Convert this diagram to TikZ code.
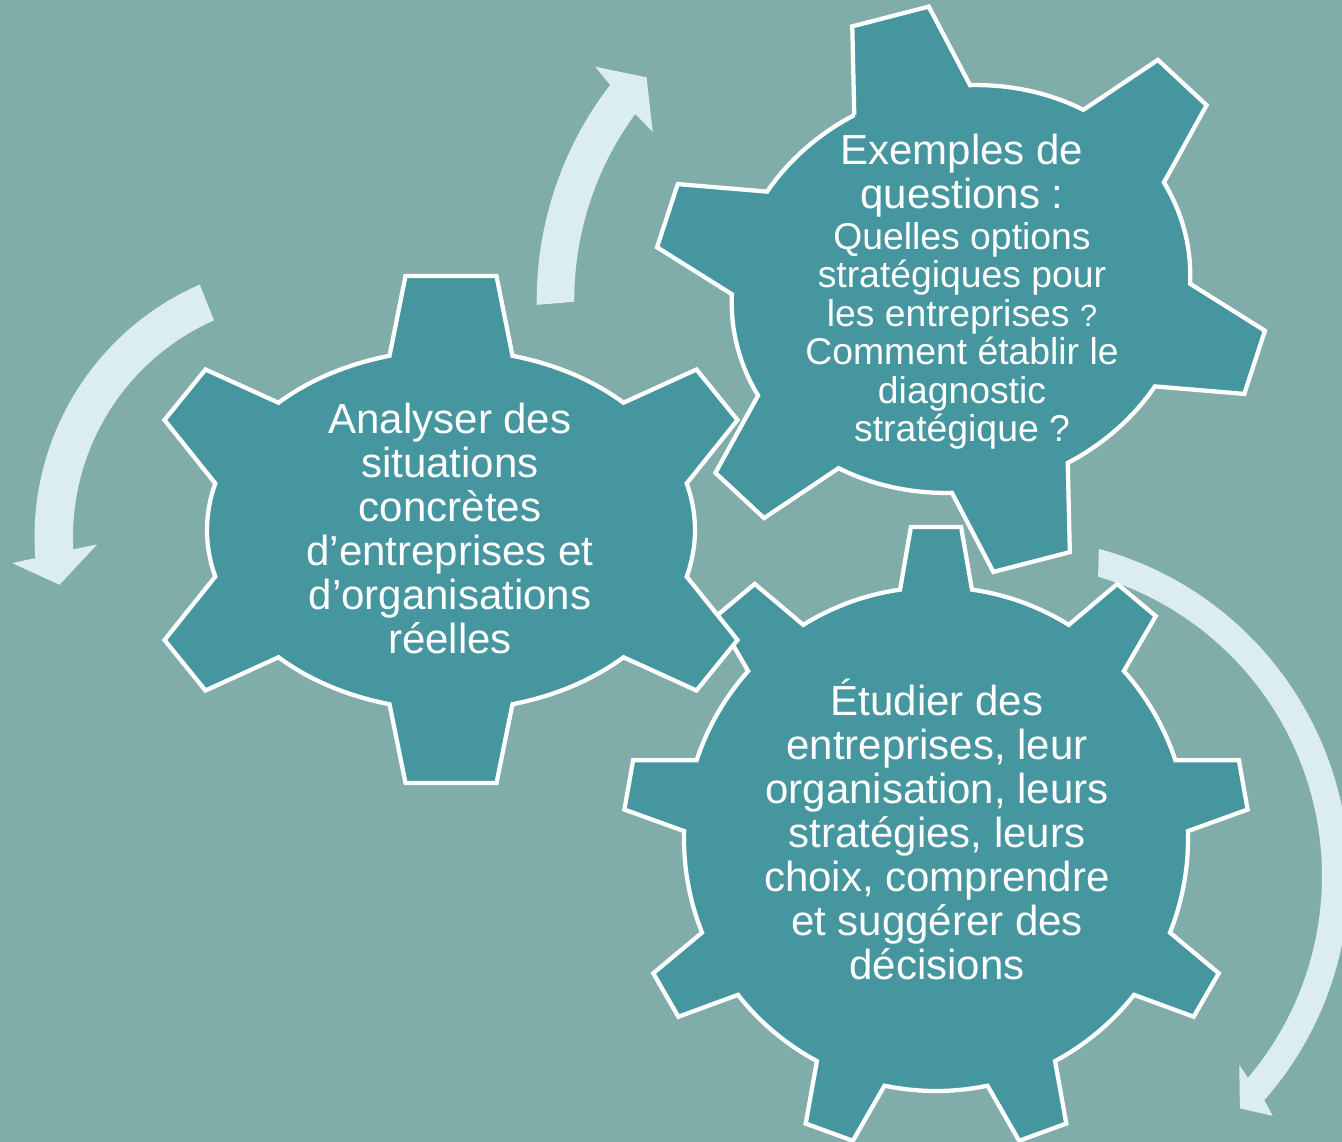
\documentclass[tikz,border=0pt]{standalone}
\usepackage{fontspec}
\setmainfont{Liberation Sans}
\usetikzlibrary{positioning}
\definecolor{mybg}{RGB}{128,172,170}
\definecolor{mygear}{RGB}{70,150,160}
\definecolor{myarrow}{RGB}{219,237,239}
\tikzset{gearbox/.style={fill=mygear, draw=white, line width=3.2pt},
  arrowband/.style={fill=myarrow},
  geartext/.style={text=white, align=center, font=\fontsize{31.5}{33}\selectfont},
  questext/.style={geartext, inner sep=0pt, font=\fontsize{28}{28.9}\selectfont}}

\begin{document}
\begin{tikzpicture}[x=0.75pt,y=-0.75pt]
\fill[mybg] (0,0) rectangle (1342,1142);
\useasboundingbox (0,0) rectangle (1342,1142);
% curved arrows
\begin{scope}[shift={(310,537)}]
\fill[arrowband] (246.4:275.5) arc[start angle=246.4, end angle=175.6, radius=275.5]
  -- (175:299) -- (169.2:255) -- (178:213) -- (177:237)
  arc[start angle=177, end angle=246.1, radius=237] -- cycle;
\end{scope}
\begin{scope}[shift={(890.2,300.6)}]
\fill[arrowband] (179.3:353.5) arc[start angle=179.3, end angle=217.6, radius=353.5]
  -- (218.4:376.6) -- (222.5:330.4) -- (215.4:291.4) -- (216.2:316)
  arc[start angle=216.2, end angle=179.8, radius=316] -- cycle;
\end{scope}
\begin{scope}[shift={(1010,876)}]
\fill[arrowband] (-74.8:339) arc[start angle=-74.8, end angle=41.4, radius=339]
  -- (42.4:355.8) -- (45.3:326.9) -- (39.5:297.1) -- (40.3:312)
  arc[start angle=40.3, end angle=-73.6, radius=312] -- cycle;
\end{scope}
% gear with nine teeth
\begin{scope}[shift={(936,839)}]
\draw[gearbox] (-98.2:252) \foreach \c in {-90,-50,...,230}{
  -- ({\c-4.6}:313) -- ({\c+4.6}:313) -- ({\c+8.2}:252)
  arc[start angle=\c+8.2, end angle=\c+31.8, radius=252]} -- cycle;
\end{scope}
% left gear
\begin{scope}[shift={(451,530)}]
\draw[gearbox] (-104.6:244 and 180) -- (-45.5,-254) -- (45.5,-254) -- (-75.4:244 and 180)
  arc[start angle=-75.4, end angle=-45, x radius=244, y radius=180]
  -- (245.5,-160.5) -- (286.5,-110) -- (-15:244 and 180)
  arc[start angle=-15, end angle=15, x radius=244, y radius=180]
  -- (286.5,110) -- (245.5,160.5) -- (45:244 and 180)
  arc[start angle=45, end angle=75.4, x radius=244, y radius=180]
  -- (45.5,253) -- (-45.5,253) -- (104.6:244 and 180)
  arc[start angle=104.6, end angle=135, x radius=244, y radius=180]
  -- (-245.5,160.5) -- (-286.5,110) -- (165:244 and 180)
  arc[start angle=165, end angle=195, x radius=244, y radius=180]
  -- (-286.5,-110) -- (-245.5,-160.5) -- (225:244 and 180)
  arc[start angle=225, end angle=255.4, x radius=244, y radius=180] -- cycle;
\end{scope}
% upper gear, turned
\begin{scope}[shift={(961,289)}, rotate=14.5]
\draw[gearbox] (-105:231 and 202) -- (-39.5,-281.5) -- (39.5,-281.5) -- (-75:231 and 202)
  arc[start angle=-75, end angle=-45, x radius=231, y radius=202]
  -- (248,-172.5) -- (283.8,-116.5) -- (-15:231 and 202)
  arc[start angle=-15, end angle=15, x radius=231, y radius=202]
  -- (283.8,116.5) -- (248,172.5) -- (45:231 and 202)
  arc[start angle=45, end angle=75, x radius=231, y radius=202]
  -- (39.5,282) -- (-39.5,282) -- (105:231 and 202)
  arc[start angle=105, end angle=135, x radius=231, y radius=202]
  -- (-248,172.5) -- (-283.8,116.5) -- (165:231 and 202)
  arc[start angle=165, end angle=195, x radius=231, y radius=202]
  -- (-283.8,-116.5) -- (-248,-172.5) -- (225:231 and 202)
  arc[start angle=225, end angle=255, x radius=231, y radius=202] -- cycle;
\end{scope}
% texts
\node[geartext] (analyser) at (450,528.6) {Analyser des\\situations\\concrètes\\d’entreprises et\\d’organisations\\réelles};
\node[geartext, inner sep=0pt, anchor=north] (exemples) at (962,134) {Exemples de\\questions :};
\node[questext, below=3pt of exemples] (questions) {Quelles options\\stratégiques pour\\les entreprises {\fontsize{23}{23}\selectfont ?}\\Comment établir le\\diagnostic\\stratégique ?};
\node[geartext] (etudier) at (937,829.3) {Étudier des\\entreprises, leur\\organisation, leurs\\stratégies, leurs\\choix, comprendre\\et suggérer des\\décisions};
\end{tikzpicture}
\end{document}
